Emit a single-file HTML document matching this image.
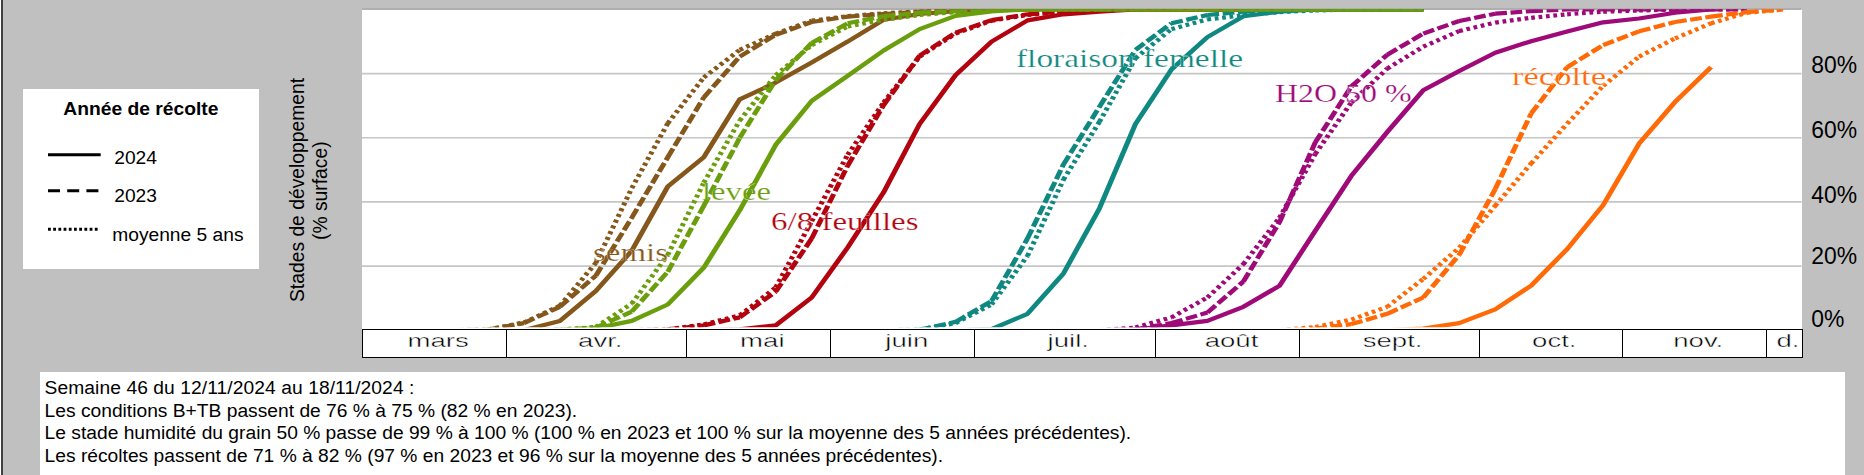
<!DOCTYPE html>
<html><head><meta charset="utf-8"><title>chart</title>
<style>
html,body{margin:0;padding:0}
body{width:1864px;height:475px;position:relative;overflow:hidden;background:#c0c0c0;font-family:"Liberation Sans",sans-serif;color:#000}
.abs{position:absolute}
#lb0{left:0;top:0;width:1.3px;height:475px;background:#fff}
#lb1{left:1.3px;top:0;width:1.8px;height:475px;background:#404040}
#legend{left:22.7px;top:88.8px;width:236.3px;height:180px;background:#fff}
#legend .t{position:absolute;left:0;width:100%;text-align:center;top:97.5px;font-weight:bold;font-size:18.9px;line-height:21px}
.lt{position:absolute;font-size:19.2px;line-height:21px;white-space:nowrap}
#ytitle{position:absolute;left:0;top:0;width:0;height:0}
.yt{position:absolute;white-space:nowrap;font-size:19.3px;line-height:21px;transform-origin:0 0;transform:rotate(-90deg)}
#plot{left:362px;top:9.3px;width:1439.5px;height:320.2px;background:#fff}
svg{position:absolute;left:0;top:0}
.mo{position:absolute;top:329px;height:26.6px;border:1px solid #000;background:#fff;box-sizing:content-box;text-align:center;font-size:19px;line-height:27px;color:#000}
.mo span{display:inline-block;position:relative;top:-3.3px;left:3.5px;transform:scaleX(1.45);-webkit-text-stroke:0.4px #fff}
.st{position:absolute;font-family:"Liberation Serif",serif;font-size:24.5px;line-height:1;white-space:nowrap;-webkit-text-stroke:0.22px #fff;transform-origin:0 83.75%;transform:scale(1.37,1.05)}
.yl{position:absolute;left:1811.2px;font-size:22.9px;line-height:26px;white-space:nowrap;transform-origin:0 50%;transform:scaleY(1.07)}
#tb{left:40px;top:371.7px;width:1805px;height:110px;background:#fff}
#tb div{position:absolute;left:4.6px;white-space:nowrap;font-size:19.23px;line-height:22px}
</style></head><body>
<div class="abs" id="lb0"></div><div class="abs" id="lb1"></div>
<div class="abs" id="legend"></div>
<div class="abs" style="left:22.7px;top:0;width:236.3px"><div class="lt" style="left:0;width:236.3px;text-align:center;top:97.7px;font-weight:bold;font-size:19.25px">Année de récolte</div>
<div class="lt" style="left:91.6px;top:146.6px">2024</div>
<div class="lt" style="left:91.6px;top:184.8px">2023</div>
<div class="lt" style="left:89.6px;top:223.9px">moyenne 5 ans</div></div>
<div class="yt" style="left:286.8px;top:301.6px">Stades de développement</div>
<div class="yt" style="left:310px;top:239.6px">(% surface)</div>
<div class="abs" id="plot"></div>
<svg width="1864" height="475" viewBox="0 0 1864 475">
<defs><clipPath id="cp"><rect x="362" y="9.3" width="1439.5" height="318"/></clipPath></defs>
<line x1="362" x2="1801.5" y1="9.2" y2="9.2" stroke="#8c8c8c" stroke-width="1"/>
<g stroke="#c6c6c6" stroke-width="1.6"><line x1="362" x2="1801.5" y1="266.1" y2="266.1"/><line x1="362" x2="1801.5" y1="201.9" y2="201.9"/><line x1="362" x2="1801.5" y1="137.8" y2="137.8"/><line x1="362" x2="1801.5" y1="73.6" y2="73.6"/></g>
<g clip-path="url(#cp)"><g transform="scale(1.2,1)" fill="none" stroke-width="4.2">
<path d="M376.61 330.2 L406.59 329.5 M406.59 329.5 L436.57 322.5 M436.57 322.5 L466.55 305.8 M466.55 305.8 L496.53 262.9 M496.53 262.9 L526.51 188.1 M526.51 188.1 L556.49 123.3 M556.49 123.3 L586.47 77.5 M586.47 77.5 L616.45 49.9 M616.45 49.9 L646.43 33.6 M646.43 33.6 L676.41 20.7 M676.41 20.7 L706.39 16.2 M706.39 16.2 L736.36 13.3 M736.36 13.3 L766.34 11.4 M766.34 11.4 L796.32 10.1 M796.32 10.1 L826.30 9.5 M826.30 9.5 L856.28 9.5 M856.28 9.5 L886.26 9.5 M886.26 9.5 L916.24 9.5 M916.24 9.5 L946.22 9.5 M946.22 9.5 L976.20 9.5 M976.20 9.5 L1006.18 9.5 M1006.18 9.5 L1036.16 9.5 M1036.16 9.5 L1066.14 9.5 M1066.14 9.5 L1096.11 9.5 M1096.11 9.5 L1126.09 9.5 M1126.09 9.5 L1156.07 9.5 M1156.07 9.5 L1186.05 9.5" stroke="#85571b" stroke-dasharray="3.1 3.1"/>
<path d="M376.61 330.2 L406.59 329.5 M406.59 329.5 L436.57 323.1 M436.57 323.1 L466.55 306.8 M466.55 306.8 L496.53 275.7 M496.53 275.7 L526.51 217.6 M526.51 217.6 L556.49 157.3 M556.49 157.3 L586.47 97.4 M586.47 97.4 L616.45 56.6 M616.45 56.6 L646.43 34.8 M646.43 34.8 L676.41 22.0 M676.41 22.0 L706.39 16.6 M706.39 16.6 L736.36 14.0 M736.36 14.0 L766.34 11.7 M766.34 11.7 L796.32 10.5 M796.32 10.5 L826.30 9.5 M826.30 9.5 L856.28 9.5 M856.28 9.5 L886.26 9.5 M886.26 9.5 L916.24 9.5 M916.24 9.5 L946.22 9.5 M946.22 9.5 L976.20 9.5 M976.20 9.5 L1006.18 9.5 M1006.18 9.5 L1036.16 9.5 M1036.16 9.5 L1066.14 9.5 M1066.14 9.5 L1096.11 9.5 M1096.11 9.5 L1126.09 9.5 M1126.09 9.5 L1156.07 9.5 M1156.07 9.5 L1186.05 9.5" stroke="#85571b" stroke-dasharray="9.8 3.0"/>
<path d="M436.57 330.2 L466.55 320.9 L496.53 291.1 L526.51 250.7 L556.49 186.5 L586.47 157.3 L616.45 99.3 L646.43 82.6 L676.41 62.4 L706.39 41.6 L736.36 19.8 L766.34 14.0 L796.32 11.1 L826.30 9.5 L856.28 9.5 L886.26 9.5 L916.24 9.5 L946.22 9.5 L976.20 9.5 L1006.18 9.5 L1036.16 9.5 L1066.14 9.5 L1096.11 9.5 L1126.09 9.5 L1156.07 9.5 L1186.05 9.5" stroke="#85571b" stroke-linejoin="round"/>
<path d="M526.51 330.2 L556.49 329.4 M556.49 329.4 L586.47 324.4 M586.47 324.4 L616.45 315.4 M616.45 315.4 L646.43 287.5 M646.43 287.5 L676.41 221.2 M676.41 221.2 L706.39 154.8 M706.39 154.8 L736.36 102.5 M736.36 102.5 L766.34 56.6 M766.34 56.6 L796.32 33.6 M796.32 33.6 L826.30 20.7 M826.30 20.7 L856.28 15.0 M856.28 15.0 L886.26 11.7 M886.26 11.7 L916.24 9.5 M916.24 9.5 L946.22 9.5 M946.22 9.5 L976.20 9.5 M976.20 9.5 L1006.18 9.5 M1006.18 9.5 L1036.16 9.5 M1036.16 9.5 L1066.14 9.5 M1066.14 9.5 L1096.11 9.5 M1096.11 9.5 L1126.09 9.5 M1126.09 9.5 L1156.07 9.5 M1156.07 9.5 L1186.05 9.5" stroke="#b2030f" stroke-dasharray="3.1 3.1"/>
<path d="M526.51 330.2 L556.49 329.4 M556.49 329.4 L586.47 325.4 M586.47 325.4 L616.45 317.4 M616.45 317.4 L646.43 291.7 M646.43 291.7 L676.41 238.5 M676.41 238.5 L706.39 165.7 M706.39 165.7 L736.36 105.1 M736.36 105.1 L766.34 55.7 M766.34 55.7 L796.32 32.6 M796.32 32.6 L826.30 20.1 M826.30 20.1 L856.28 14.3 M856.28 14.3 L886.26 11.4 M886.26 11.4 L916.24 9.5 M916.24 9.5 L946.22 9.5 M946.22 9.5 L976.20 9.5 M976.20 9.5 L1006.18 9.5 M1006.18 9.5 L1036.16 9.5 M1036.16 9.5 L1066.14 9.5 M1066.14 9.5 L1096.11 9.5 M1096.11 9.5 L1126.09 9.5 M1126.09 9.5 L1156.07 9.5 M1156.07 9.5 L1186.05 9.5" stroke="#b2030f" stroke-dasharray="9.8 3.0"/>
<path d="M586.47 330.2 L616.45 329.4 L646.43 325.4 L676.41 297.5 L706.39 247.5 L736.36 192.3 L766.34 124.0 L796.32 75.2 L826.30 41.6 L856.28 20.4 L886.26 14.3 L916.24 11.7 L946.22 9.5 L976.20 9.5 L1006.18 9.5 L1036.16 9.5 L1066.14 9.5 L1096.11 9.5 L1126.09 9.5 L1156.07 9.5 L1186.05 9.5" stroke="#b2030f" stroke-linejoin="round"/>
<path d="M736.36 330.2 L766.34 329.6 M766.34 329.6 L796.32 323.1 M796.32 323.1 L826.30 304.5 M826.30 304.5 L856.28 255.8 M856.28 255.8 L886.26 179.5 M886.26 179.5 L916.24 121.7 M916.24 121.7 L946.22 58.2 M946.22 58.2 L976.20 29.1 M976.20 29.1 L1006.18 19.4 M1006.18 19.4 L1036.16 15.3 M1036.16 15.3 L1066.14 12.1 M1066.14 12.1 L1096.11 10.5 M1096.11 10.5 L1126.09 9.5 M1126.09 9.5 L1156.07 9.5 M1156.07 9.5 L1186.05 9.5" stroke="#0e8880" stroke-dasharray="3.1 3.1"/>
<path d="M736.36 330.2 L766.34 329.6 M766.34 329.6 L796.32 321.9 M796.32 321.9 L826.30 301.0 M826.30 301.0 L856.28 238.5 M856.28 238.5 L886.26 164.4 M886.26 164.4 L916.24 106.7 M916.24 106.7 L946.22 49.9 M946.22 49.9 L976.20 23.3 M976.20 23.3 L1006.18 15.0 M1006.18 15.0 L1036.16 11.7 M1036.16 11.7 L1066.14 9.5 M1066.14 9.5 L1096.11 9.5 M1096.11 9.5 L1126.09 9.5 M1126.09 9.5 L1156.07 9.5 M1156.07 9.5 L1186.05 9.5" stroke="#0e8880" stroke-dasharray="9.8 3.0"/>
<path d="M796.32 330.2 L826.30 329.2 L856.28 313.8 L886.26 273.4 L916.24 208.3 L946.22 124.0 L976.20 69.5 L1006.18 37.1 L1036.16 16.2 L1066.14 11.7 L1096.11 9.5 L1126.09 9.5 L1156.07 9.5 L1186.05 9.5" stroke="#0e8880" stroke-linejoin="round"/>
<path d="M916.24 330.2 L946.22 327.6 M946.22 327.6 L976.20 317.4 M976.20 317.4 L1006.18 297.5 M1006.18 297.5 L1036.16 264.1 M1036.16 264.1 L1066.14 218.0 M1066.14 218.0 L1096.11 153.8 M1096.11 153.8 L1126.09 102.5 M1126.09 102.5 L1156.07 68.5 M1156.07 68.5 L1186.05 46.7 M1186.05 46.7 L1216.03 31.0 M1216.03 31.0 L1246.01 22.6 M1246.01 22.6 L1275.99 17.8 M1275.99 17.8 L1305.97 14.3 M1305.97 14.3 L1335.95 11.7 M1335.95 11.7 L1365.93 10.5 M1365.93 10.5 L1395.91 9.5 M1395.91 9.5 L1425.89 9.5 M1425.89 9.5 L1455.86 9.5" stroke="#9e0a78" stroke-dasharray="3.1 3.1"/>
<path d="M916.24 330.2 L946.22 329.2 M946.22 329.2 L976.20 323.1 M976.20 323.1 L1006.18 312.6 M1006.18 312.6 L1036.16 281.5 M1036.16 281.5 L1066.14 222.4 M1066.14 222.4 L1096.11 142.3 M1096.11 142.3 L1126.09 86.5 M1126.09 86.5 L1156.07 54.7 M1156.07 54.7 L1186.05 33.6 M1186.05 33.6 L1216.03 21.0 M1216.03 21.0 L1246.01 13.7 M1246.01 13.7 L1275.99 11.1 M1275.99 11.1 L1305.97 9.5 M1305.97 9.5 L1335.95 9.5 M1335.95 9.5 L1365.93 9.5 M1365.93 9.5 L1395.91 9.5 M1395.91 9.5 L1425.89 9.5 M1425.89 9.5 L1455.86 9.5" stroke="#9e0a78" stroke-dasharray="9.8 3.0"/>
<path d="M916.24 330.2 L946.22 329.6 L976.20 325.4 L1006.18 320.9 L1036.16 306.8 L1066.14 285.9 L1096.11 230.8 L1126.09 175.9 L1156.07 132.0 L1186.05 90.3 L1216.03 71.1 L1246.01 52.8 L1275.99 41.2 L1305.97 31.6 L1335.95 22.3 L1365.93 18.5 L1395.91 12.7 L1425.89 9.5" stroke="#9e0a78" stroke-linejoin="round"/>
<path d="M1066.14 330.2 L1096.11 327.0 M1096.11 327.0 L1126.09 319.6 M1126.09 319.6 L1156.07 306.8 M1156.07 306.8 L1186.05 278.9 M1186.05 278.9 L1216.03 247.8 M1216.03 247.8 L1246.01 205.8 M1246.01 205.8 L1275.99 163.4 M1275.99 163.4 L1305.97 123.7 M1305.97 123.7 L1335.95 85.8 M1335.95 85.8 L1365.93 56.6 M1365.93 56.6 L1395.91 38.4 M1395.91 38.4 L1425.89 23.3 M1425.89 23.3 L1455.86 12.7 M1455.86 12.7 L1485.84 9.5" stroke="#ff6a06" stroke-dasharray="3.1 3.1"/>
<path d="M1066.14 330.2 L1096.11 328.6 M1096.11 328.6 L1126.09 324.1 M1126.09 324.1 L1156.07 313.8 M1156.07 313.8 L1186.05 297.5 M1186.05 297.5 L1216.03 254.8 M1216.03 254.8 L1246.01 189.1 M1246.01 189.1 L1275.99 113.4 M1275.99 113.4 L1305.97 67.2 M1305.97 67.2 L1335.95 45.1 M1335.95 45.1 L1365.93 31.3 M1365.93 31.3 L1395.91 22.0 M1395.91 22.0 L1425.89 16.6 M1425.89 16.6 L1455.86 12.1 M1455.86 12.1 L1485.84 9.5" stroke="#ff6a06" stroke-dasharray="9.8 3.0"/>
<path d="M1156.07 330.2 L1186.05 328.6 L1216.03 323.1 L1246.01 309.4 L1275.99 285.6 L1305.97 249.1 L1335.95 205.1 L1365.93 143.6 L1395.91 101.9 L1425.89 67.2" stroke="#ff6a06" stroke-linejoin="round"/>
<path d="M436.57 330.2 L466.55 329.6 M466.55 329.6 L496.53 327.0 M496.53 327.0 L526.51 303.6 M526.51 303.6 L556.49 254.8 M556.49 254.8 L586.47 182.7 M586.47 182.7 L616.45 120.5 M616.45 120.5 L646.43 75.2 M646.43 75.2 L676.41 45.1 M676.41 45.1 L706.39 26.5 M706.39 26.5 L736.36 19.8 M736.36 19.8 L766.34 15.0 M766.34 15.0 L796.32 12.1 M796.32 12.1 L826.30 10.5 M826.30 10.5 L856.28 9.5 M856.28 9.5 L886.26 9.5 M886.26 9.5 L916.24 9.5 M916.24 9.5 L946.22 9.5 M946.22 9.5 L976.20 9.5 M976.20 9.5 L1006.18 9.5 M1006.18 9.5 L1036.16 9.5 M1036.16 9.5 L1066.14 9.5 M1066.14 9.5 L1096.11 9.5 M1096.11 9.5 L1126.09 9.5 M1126.09 9.5 L1156.07 9.5 M1156.07 9.5 L1186.05 9.5" stroke="#6a9e0c" stroke-dasharray="3.1 3.1"/>
<path d="M436.57 330.2 L466.55 329.6 M466.55 329.6 L496.53 327.6 M496.53 327.6 L526.51 311.6 M526.51 311.6 L556.49 271.8 M556.49 271.8 L586.47 205.8 M586.47 205.8 L616.45 137.8 M616.45 137.8 L646.43 80.1 M646.43 80.1 L676.41 42.9 M676.41 42.9 L706.39 23.3 M706.39 23.3 L736.36 16.2 M736.36 16.2 L766.34 12.7 M766.34 12.7 L796.32 10.8 M796.32 10.8 L826.30 9.5 M826.30 9.5 L856.28 9.5 M856.28 9.5 L886.26 9.5 M886.26 9.5 L916.24 9.5 M916.24 9.5 L946.22 9.5 M946.22 9.5 L976.20 9.5 M976.20 9.5 L1006.18 9.5 M1006.18 9.5 L1036.16 9.5 M1036.16 9.5 L1066.14 9.5 M1066.14 9.5 L1096.11 9.5 M1096.11 9.5 L1126.09 9.5 M1126.09 9.5 L1156.07 9.5 M1156.07 9.5 L1186.05 9.5" stroke="#6a9e0c" stroke-dasharray="9.8 3.0"/>
<path d="M466.55 330.2 L496.53 328.3 L526.51 320.9 L556.49 304.5 L586.47 267.7 L616.45 210.3 L646.43 144.8 L676.41 100.9 L706.39 75.9 L736.36 50.5 L766.34 29.1 L796.32 15.9 L826.30 11.4 L856.28 9.5 L886.26 9.5 L916.24 9.5 L946.22 9.5 L976.20 9.5 L1006.18 9.5 L1036.16 9.5 L1066.14 9.5 L1096.11 9.5 L1126.09 9.5 L1156.07 9.5 L1186.05 9.5" stroke="#6a9e0c" stroke-linejoin="round"/>
</g></g>
<g stroke="#000" stroke-width="3">
<line x1="48" x2="100.7" y1="154.8" y2="154.8"/>
<line x1="48" x2="98.5" y1="190.8" y2="190.8" stroke-dasharray="12 7.2"/>
<line x1="48" x2="98.5" y1="229.3" y2="229.3" stroke-dasharray="2.8 2.4"/>
</g>
</svg>
<div class="mo" style="left:361.5px;width:144.5px"><span>mars</span></div><div class="mo" style="left:506.0px;width:179.5px"><span>avr.</span></div><div class="mo" style="left:685.5px;width:144.5px"><span>mai</span></div><div class="mo" style="left:830.0px;width:144.0px"><span>juin</span></div><div class="mo" style="left:974.0px;width:180.5px"><span>juil.</span></div><div class="mo" style="left:1154.5px;width:144.0px"><span>août</span></div><div class="mo" style="left:1298.5px;width:180.0px"><span>sept.</span></div><div class="mo" style="left:1478.5px;width:143.5px"><span>oct.</span></div><div class="mo" style="left:1622.0px;width:144.0px"><span>nov.</span></div><div class="mo" style="left:1766.0px;width:35.0px"><span>d.</span></div>
<div class="st" style="left:593.3px;top:241.1px;color:#85571b;transform:scale(1.344,1.0)">semis</div><div class="st" style="left:701.5px;top:180.1px;color:#6a9e0c;transform:scale(1.335,1.0)">levée</div><div class="st" style="left:770.5px;top:209.5px;color:#b2030f;transform:scale(1.347,1.0)">6/8 feuilles</div><div class="st" style="left:1016.2px;top:47.1px;color:#0e8880;transform:scale(1.362,1.0)">floraison femelle</div><div class="st" style="left:1275.0px;top:81.5px;color:#9e0a78;transform:scale(1.304,1.0)">H2O 50 %</div><div class="st" style="left:1511.8px;top:64.7px;color:#ff6a06;transform:scale(1.410,1.0)">récolte</div>
<div class="yl" style="top:50.6px">80%</div><div class="yl" style="top:115.6px">60%</div><div class="yl" style="top:180.6px">40%</div><div class="yl" style="top:242.4px">20%</div><div class="yl" style="top:304.6px">0%</div>
<div class="abs" id="tb">
<div style="top:5.4px;letter-spacing:0.075px">Semaine 46 du 12/11/2024 au 18/11/2024 :</div>
<div style="top:27.9px">Les conditions B+TB passent de 76 % à 75 % (82 % en 2023).</div>
<div style="top:50.4px">Le stade humidité du grain 50 % passe de 99 % à 100 % (100 % en 2023 et 100 % sur la moyenne des 5 années précédentes).</div>
<div style="top:72.9px">Les récoltes passent de 71 % à 82 % (97 % en 2023 et 96 % sur la moyenne des 5 années précédentes).</div>
</div>
</body></html>
